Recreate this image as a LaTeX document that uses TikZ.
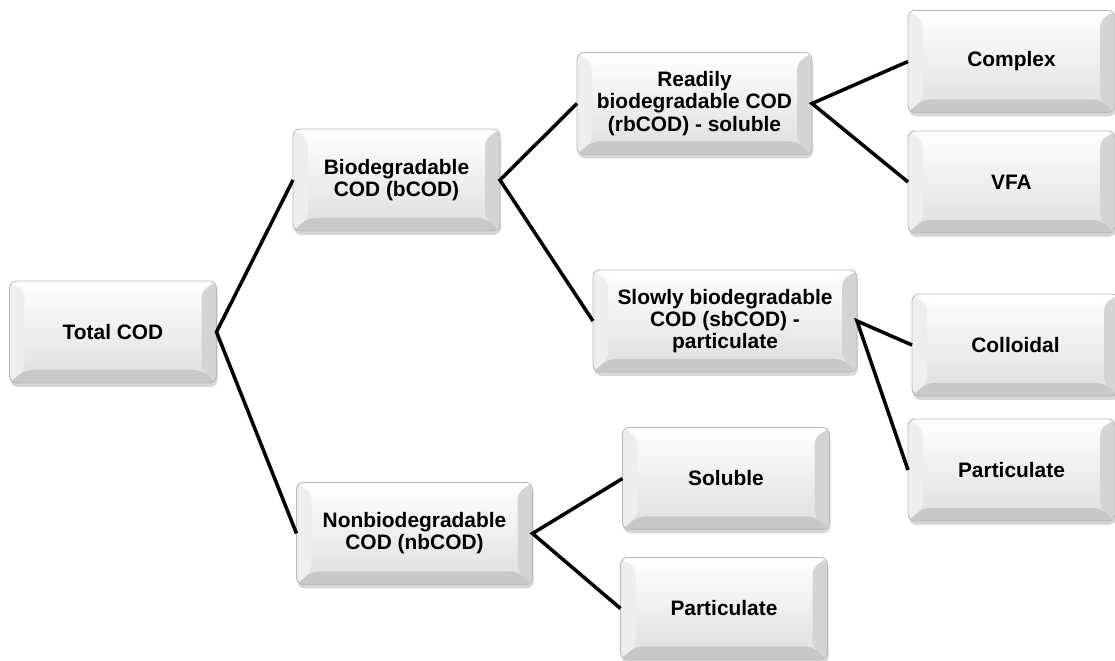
\documentclass[tikz,border=0pt]{standalone}
\usepackage{fontspec}
\setmainfont{Liberation Sans}
\usetikzlibrary{positioning, calc, shadows}
\definecolor{boxedge}{RGB}{185,185,185}
\definecolor{facelow}{RGB}{222,222,222}
\definecolor{rimleft}{RGB}{238,238,238}
\definecolor{rimright}{RGB}{212,212,212}
\definecolor{rimlow}{RGB}{200,200,200}
\newcommand{\bevbox}{path picture bounding box}
\tikzset{
  codbox/.style={rectangle, rounded corners=4pt, draw=boxedge, line width=0.5pt,
    top color=white, bottom color=facelow, minimum width=4.14cm, minimum height=2.04cm,
    align=center, outer sep=0pt, font=\bfseries\fontsize{11.9}{12.6}\selectfont,
    drop shadow={shadow xshift=0.6pt, shadow yshift=-2.2pt, opacity=0.45, fill=gray!70},
    path picture={
      \fill[rimleft] (\bevbox.south west) -- (\bevbox.north west)
        -- ($(\bevbox.north west)+(0.3,-0.2)$) -- ($(\bevbox.south west)+(0.3,0.26)$) -- cycle;
      \fill[rimright] (\bevbox.south east) -- (\bevbox.north east)
        -- ($(\bevbox.north east)+(-0.3,-0.2)$) -- ($(\bevbox.south east)+(-0.3,0.26)$) -- cycle;
      \fill[rimlow] (\bevbox.south west) -- (\bevbox.south east)
        -- ($(\bevbox.south east)+(-0.3,0.26)$) -- ($(\bevbox.south west)+(0.3,0.26)$) -- cycle;
      \fill[white] (\bevbox.north west) -- (\bevbox.north east)
        -- ($(\bevbox.north east)+(-0.3,-0.2)$) -- ($(\bevbox.north west)+(0.3,-0.2)$) -- cycle;
    }},
  conn/.style={line width=2pt, black, line join=miter}
}

\begin{document}
\begin{tikzpicture}
  \useasboundingbox (0,0) rectangle (22.3,13.22);
  \node[codbox] (total) at (2.26,6.58) {Total COD};

  % second level
  \node[codbox, right=1.53cm of total, yshift=3.04cm] (bio) {Biodegradable\\COD (bCOD)};
  \node[codbox, minimum width=4.72cm, right=1.6cm of total, yshift=-4.03cm] (nonbio)
    {Nonbiodegradable\\COD (nbCOD)};

  % third level
  \node[codbox, minimum width=4.7cm, right=1.54cm of bio, yshift=1.53cm] (readily)
    {Readily\\biodegradable COD\\(rbCOD) - soluble};
  \node[codbox, minimum width=5.28cm, right=1.86cm of bio, yshift=-2.82cm] (slowly)
    {Slowly biodegradable\\COD (sbCOD) -\\particulate};
  \node[codbox, right=1.8cm of nonbio, yshift=1.1cm] (solnb) {Soluble};
  \node[codbox, right=1.76cm of nonbio, yshift=-1.5cm] (partnb) {Particulate};

  % fourth level
  \node[codbox, right=1.92cm of readily, yshift=0.84cm] (complex) {Complex};
  \node[codbox, right=1.92cm of readily, yshift=-1.57cm] (vfa) {VFA};
  \node[codbox, right=1.1cm of slowly, yshift=-0.48cm] (colloid) {Colloidal};
  \node[codbox, right=1.02cm of slowly, yshift=-2.98cm] (partsb) {Particulate};

  % connectors
  \draw[conn] (bio.west) -- (total.east) -- (nonbio.west);
  \draw[conn] (readily.west) -- (bio.east) -- (slowly.west);
  \draw[conn] (solnb.west) -- (nonbio.east) -- (partnb.west);
  \draw[conn] (complex.west) -- (readily.east) -- (vfa.west);
  \draw[conn] (colloid.west) -- (slowly.east) -- (partsb.west);
\end{tikzpicture}
\end{document}
